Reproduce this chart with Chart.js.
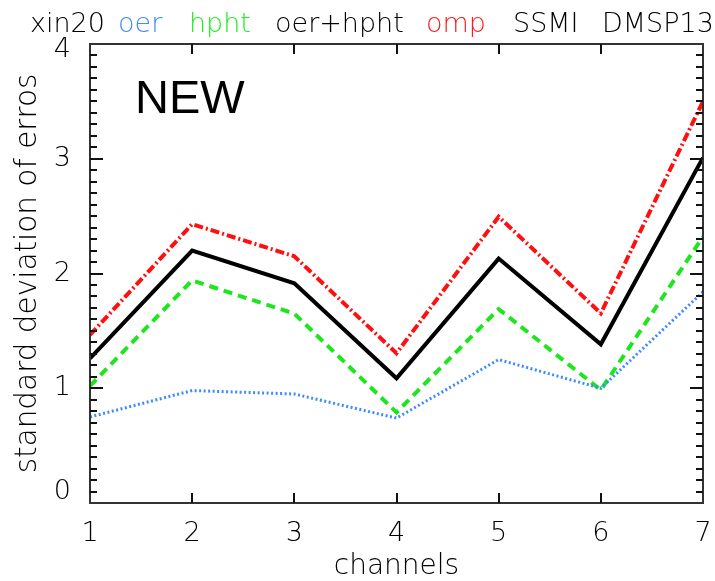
<!DOCTYPE html>
<html>
<head>
<meta charset="utf-8">
<script src="https://cdn.jsdelivr.net/npm/chart.js@4.4.1/dist/chart.umd.min.js"></script>
<style>
  html, body { margin: 0; padding: 0; background: #fff; }
  #wrap { width: 715px; height: 581px; }
</style>
</head>
<body>
<div id="wrap"><canvas id="c" width="715" height="581"></canvas></div>
<script>
// ---- data ----
const channels = [1, 2, 3, 4, 5, 6, 7];
const oer      = [0.75, 0.98, 0.95, 0.74, 1.25, 1.00, 1.84];
const hpht     = [1.02, 1.94, 1.65, 0.79, 1.69, 0.985, 2.32];
const oerHpht  = [1.26, 2.20, 1.915, 1.087, 2.13, 1.383, 3.01];
const omp      = [1.465, 2.43, 2.15, 1.305, 2.495, 1.653, 3.50];
const yTicks   = [0, 1, 2, 3, 4];
const titleWords = ['xin20', 'oer', 'hpht', 'oer+hpht', 'omp', 'SSMI', 'DMSP13'];
const titleColors = ['#000', '#3c8cff', '#22ee22', '#000', '#ff1a1a', '#000', '#000'];

const FONT = "'DejaVu Sans', 'Liberation Sans', sans-serif";

function pts(arr) { return channels.map((c, i) => ({ x: c, y: arr[i] })); }

const decorPlugin = {
  id: 'decor',
  afterDatasetsDraw(chart) {
    const { ctx, chartArea: a, scales: { x, y } } = chart;
    ctx.save();
    ctx.strokeStyle = '#333';
    ctx.lineWidth = 2;
    ctx.strokeRect(a.left, a.top, a.right - a.left, a.bottom - a.top);
    ctx.strokeStyle = '#111';
    ctx.lineWidth = 2;
    ctx.beginPath();
    for (let k = 1; k < 40; k++) {
      const py = Math.round(y.getPixelForValue(k / 10));
      const len = (k % 10 === 0) ? 13 : 7;
      ctx.moveTo(a.left, py); ctx.lineTo(a.left + len, py);
      ctx.moveTo(a.right, py); ctx.lineTo(a.right - len, py);
    }
    for (let c = 2; c <= 6; c++) {
      const px = Math.round(x.getPixelForValue(c));
      ctx.moveTo(px, a.bottom); ctx.lineTo(px, a.bottom - 10);
      ctx.moveTo(px, a.top); ctx.lineTo(px, a.top + 10);
    }
    ctx.stroke();
    // NEW label
    ctx.fillStyle = '#000';
    ctx.font = "47px 'Liberation Sans', Arial, sans-serif";
    ctx.textBaseline = 'alphabetic';
    ctx.textAlign = 'left';
    ctx.fillText('NEW', 135, 113);
    // coloured title
    const xs = [30, 118, 189, 275, 426, 513, 602];
    ctx.font = "200 27px " + FONT;
    titleWords.forEach((w, i) => {
      ctx.fillStyle = titleColors[i];
      ctx.fillText(w, xs[i], 32);
    });
    ctx.restore();
  }
};

new Chart(document.getElementById('c'), {
  type: 'line',
  data: {
    datasets: [
      { label: 'oer', data: pts(oer), borderColor: '#3c8cff', borderWidth: 3, borderDash: [2, 2.5] },
      { label: 'hpht', data: pts(hpht), borderColor: '#1ee61e', borderWidth: 4, borderDash: [9, 6] },
      { label: 'oer+hpht', data: pts(oerHpht), borderColor: '#000', borderWidth: 4 },
      { label: 'omp', data: pts(omp), borderColor: '#ff1010', borderWidth: 4, borderDash: [9, 3, 2, 3] }
    ]
  },
  options: {
    responsive: false,
    animation: false,
    devicePixelRatio: 1,
    layout: { padding: { top: 44, right: 12, left: 0, bottom: 0 } },
    elements: { point: { radius: 0 }, line: { tension: 0, borderCapStyle: 'butt' } },
    plugins: { legend: { display: false }, tooltip: { enabled: false } },
    scales: {
      x: {
        type: 'linear', min: 1, max: 7,
        grid: { display: false },
        border: { display: false },
        ticks: { stepSize: 1, color: '#000', padding: 7, font: { family: FONT, size: 27, weight: 200 } },
        title: { display: true, text: 'channels', color: '#000', padding: { top: 0, bottom: 0 },
                 font: { family: FONT, size: 28, weight: 200, lineHeight: 1 } },
        afterFit(s) { s.height = 78; s.paddingLeft = 0; s.paddingRight = 0; }
      },
      y: {
        type: 'linear', min: 0, max: 4,
        grid: { display: false },
        border: { display: false },
        afterBuildTicks(s) { s.ticks = yTicks.map(v => ({ value: v })); },
        ticks: {
          color: '#000', padding: 11,
          font: { family: FONT, size: 27, weight: 200, lineHeight: '11px' },
          callback(v) {
            if (v === 4) return ['', '4'];
            if (v === 0) return ['0', '', ''];
            return String(v);
          }
        },
        title: { display: true, text: 'standard deviation of erros', color: '#000', padding: { top: 11, bottom: 0 },
                 font: { family: FONT, size: 29.5, weight: 200 } },
        afterFit(s) { s.width = 90; s.paddingTop = 0; s.paddingBottom = 0; }
      }
    }
  },
  plugins: [decorPlugin]
});
</script>
</body>
</html>
